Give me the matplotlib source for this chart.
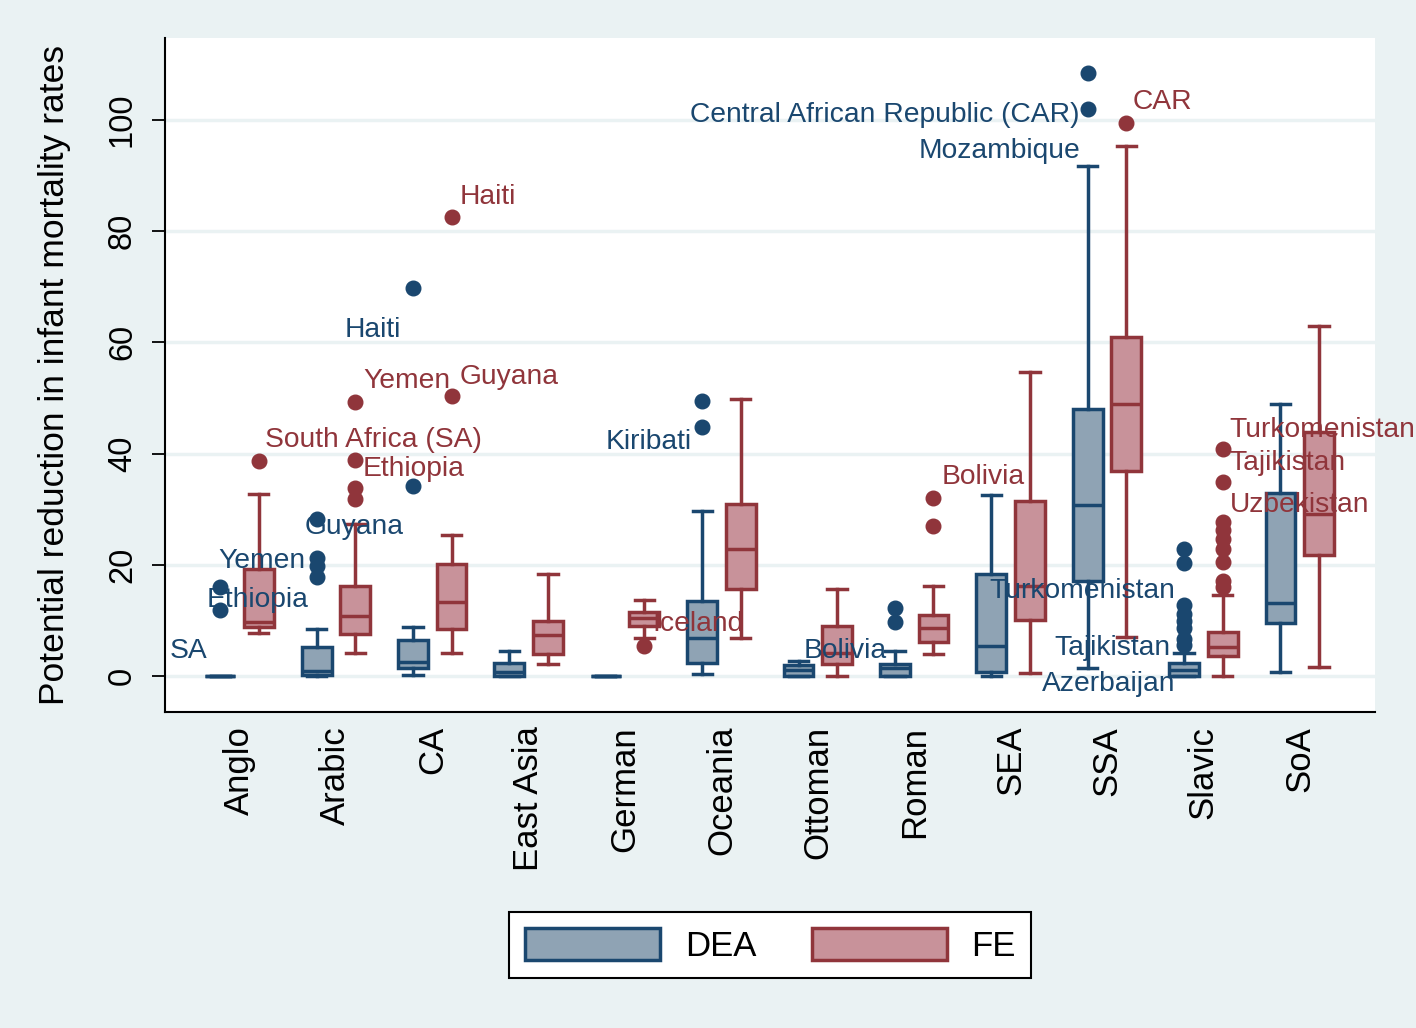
import matplotlib
matplotlib.use("Agg")
import matplotlib.pyplot as plt
from matplotlib.patches import Patch

plt.rcParams['font.family'] = ['Liberation Sans', 'DejaVu Sans']

groups = ["Anglo", "Arabic", "CA", "East Asia", "German", "Oceania",
          "Ottoman", "Roman", "SEA", "SSA", "Slavic", "SoA"]

# DEA box statistics
dea_lo = [0, 0, 0.2, 0, 0, 0.4, 0, 0, 0, 1.4, 0, 0.7]
dea_q1 = [0, 0.2, 1.4, 0, 0, 2.3, 0, 0, 0.8, 17.0, 0, 9.5]
dea_med = [0, 0.9, 2.5, 0.7, 0, 6.8, 1.1, 1.4, 5.4, 30.7, 1.1, 13.2]
dea_q3 = [0, 5.2, 6.5, 2.3, 0, 13.5, 2.0, 2.2, 18.4, 48.0, 2.3, 32.9]
dea_hi = [0, 8.5, 8.8, 4.5, 0, 29.7, 2.7, 4.5, 32.6, 91.7, 4.1, 48.9]
dea_out = [[16.0, 11.9], [28.2, 21.2, 19.8, 17.8], [34.2, 69.8], [], [],
           [49.5, 44.8], [], [12.2, 9.7], [], [108.5, 101.9],
           [22.8, 20.4, 12.8, 11.2, 9.8, 8.6, 6.6, 5.6], []]

# FE box statistics
fe_lo = [7.7, 4.1, 4.1, 2.2, 6.8, 6.8, 0, 4.0, 0.6, 7.0, 0, 1.7]
fe_q1 = [8.8, 7.5, 8.5, 4.0, 9.0, 15.6, 2.2, 6.1, 10.1, 36.8, 3.6, 21.7]
fe_med = [9.7, 10.8, 13.3, 7.4, 10.5, 22.8, 4.1, 8.6, 16.2, 48.9, 5.2, 29.2]
fe_q3 = [19.2, 16.2, 20.1, 9.9, 11.5, 30.9, 9.0, 11.0, 31.5, 61.0, 7.9, 43.8]
fe_hi = [32.7, 27.3, 25.4, 18.3, 13.7, 49.8, 15.6, 16.2, 54.6, 95.2, 14.6, 62.9]
fe_out = [[38.7], [49.3, 38.8, 33.8, 31.8], [50.4, 82.6], [], [5.4], [], [],
          [32.0, 27.0], [], [99.5],
          [40.8, 34.9, 27.7, 26.2, 24.7, 22.8, 20.5, 17.1, 16.0], []]

# outlier labels: (text, x, y, horizontal alignment)
dea_labels = [("SA", -0.72, 4.5, "left"), ("Ethiopia", -0.34, 13.7, "left"),
              ("Yemen", -0.22, 20.7, "left"), ("Guyana", 0.68, 26.8, "left"),
              ("Haiti", 1.09, 62.2, "left"), ("Kiribati", 3.80, 42.1, "left"),
              ("Bolivia", 5.85, 4.5, "left"),
              ("Central African Republic (CAR)", 8.72, 100.9, "right"),
              ("Mozambique", 8.72, 94.4, "right"),
              ("Turkomenistan", 7.78, 15.3, "left"),
              ("Tajikistan", 8.45, 5.0, "left"),
              ("Azerbaijan", 8.33, -1.4, "left")]
fe_labels = [("Haiti", 2.28, 86.2, "left"), ("Yemen", 1.28, 53.1, "left"),
             ("Guyana", 2.28, 53.8, "left"),
             ("South Africa (SA)", 0.27, 42.4, "left"),
             ("Ethiopia", 1.28, 37.2, "left"), ("Iceland", 4.28, 9.4, "left"),
             ("Bolivia", 7.28, 35.8, "left"), ("CAR", 9.27, 103.2, "left"),
             ("Turkomenistan", 10.27, 44.2, "left"),
             ("Tajikistan", 10.27, 38.3, "left"),
             ("Uzbekistan", 10.27, 30.8, "left")]

navy = "#1A476F"
navy_fill = "#8FA3B4"
maroon = "#90353B"
maroon_fill = "#C8929A"
bg = "#EAF2F3"


def make_stats(lo, q1, med, q3, hi, out):
    stats = []
    for i in range(len(lo)):
        stats.append(dict(whislo=lo[i], q1=q1[i], med=med[i], q3=q3[i],
                          whishi=hi[i], fliers=out[i]))
    return stats


def draw_boxes(ax, stats, pos, edge, fill):
    ax.bxp(stats, positions=pos, widths=0.31, capwidths=0.2,
           patch_artist=True, showfliers=True,
           boxprops=dict(facecolor=fill, edgecolor=edge, linewidth=2.5),
           whiskerprops=dict(color=edge, linewidth=2.5),
           capprops=dict(color=edge, linewidth=2.5),
           medianprops=dict(color=edge, linewidth=2.5),
           flierprops=dict(marker="o", markerfacecolor=edge,
                           markeredgecolor=edge, markersize=10.5))


fig = plt.figure(figsize=(14.16, 10.28), dpi=100, facecolor=bg)
ax = fig.add_axes([0.1165, 0.3074, 0.8545, 0.6556])
ax.set_facecolor("white")

x = list(range(len(groups)))
draw_boxes(ax, make_stats(dea_lo, dea_q1, dea_med, dea_q3, dea_hi, dea_out),
           [i - 0.2 for i in x], navy, navy_fill)
draw_boxes(ax, make_stats(fe_lo, fe_q1, fe_med, fe_q3, fe_hi, fe_out),
           [i + 0.2 for i in x], maroon, maroon_fill)

for txt, tx, ty, ha in dea_labels:
    ax.text(tx, ty, txt, color=navy, fontsize=20.3, ha=ha, va="center")
for txt, tx, ty, ha in fe_labels:
    ax.text(tx, ty, txt, color=maroon, fontsize=20.3, ha=ha, va="center")

ax.set_xlim(-0.773, 11.78)
ax.set_ylim(-6.47, 114.7)
ax.set_yticks([0, 20, 40, 60, 80, 100])
ax.set_yticklabels(["0", "20", "40", "60", "80", "100"], rotation=90,
                   va="center", fontsize=23.5)
ax.set_xticks(x)
ax.set_xticklabels(groups, rotation=90, fontsize=25)
ax.tick_params(axis="x", length=0, pad=10)
ax.tick_params(axis="y", length=9.5, width=1.3, pad=10)
ax.yaxis.grid(True, color=bg, linewidth=2.5)
ax.set_axisbelow(True)
for side in ["top", "right"]:
    ax.spines[side].set_visible(False)
for side in ["left", "bottom"]:
    ax.spines[side].set_linewidth(1.5)
ax.set_ylabel("Potential reduction in infant mortality rates", fontsize=25.5,
              labelpad=26)

handles = [Patch(facecolor=navy_fill, edgecolor=navy, linewidth=2.5),
           Patch(facecolor=maroon_fill, edgecolor=maroon, linewidth=2.5)]
leg = fig.legend(handles, ["DEA", "FE"], loc="center",
                 bbox_to_anchor=(0.544, 0.0807), ncol=2, fontsize=25,
                 handlelength=3.9, handleheight=1.05, columnspacing=1.6,
                 handletextpad=0.7, fancybox=False, framealpha=1,
                 edgecolor="black", borderpad=0.45)
leg.get_frame().set_linewidth(1.5)

fig.savefig("out.png", dpi=100, facecolor=bg)
